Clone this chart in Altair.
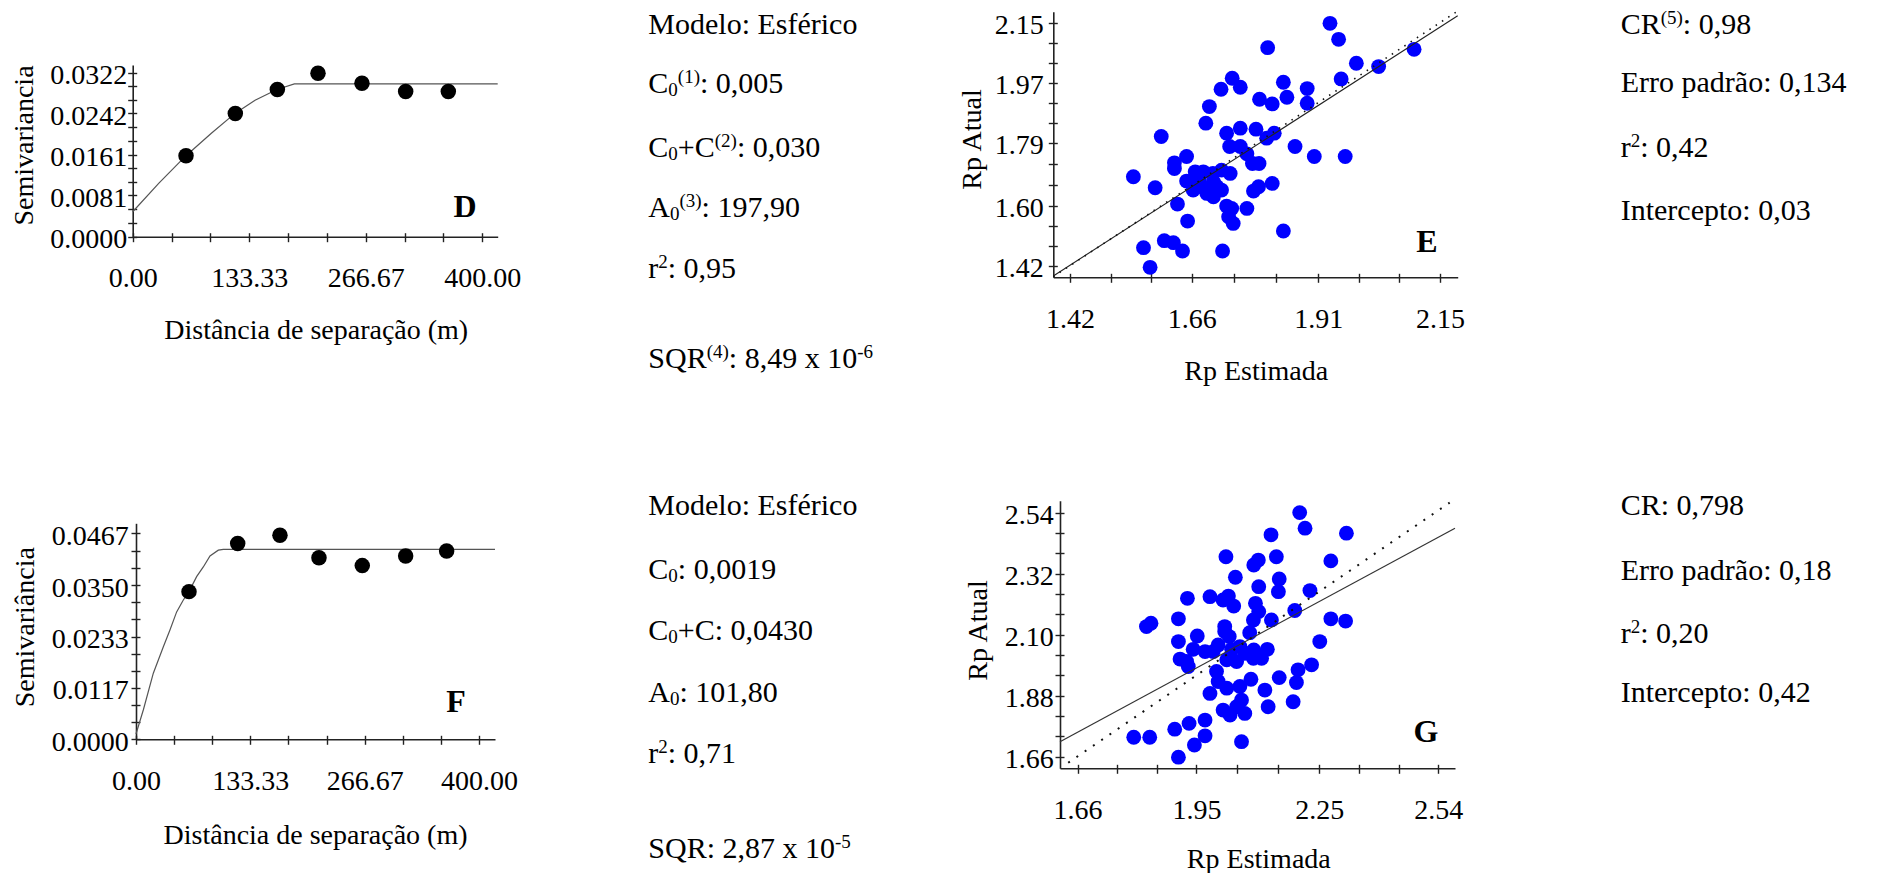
import re
import altair as alt
import pandas as pd

FONT = "Liberation Serif"
W, H = 1863, 865
AX_FS = 28
INFO_FS = 30
SUP_FS = 19

# ---------------- data ----------------
# Panel D : experimental semivariogram + fitted spherical model
D_dist = [61.0, 117.4, 165.5, 212.0, 262.3, 312.3, 361.1]
D_semi = [0.0159, 0.0242, 0.0289, 0.0321, 0.0301, 0.0285, 0.0285]
D_curve_x = [0, 30, 61, 90, 117, 140, 165, 185, 417.6]
D_curve_y = [0.0049, 0.0105, 0.0159, 0.0203, 0.0242, 0.0268, 0.0289, 0.0300, 0.0300]
D_xlabels = [0.0, 133.33, 266.67, 400.0]
D_ylabels = [0.0, 0.0081, 0.0161, 0.0242, 0.0322]

# Panel F
F_dist = [61.8, 118.6, 167.9, 213.4, 263.9, 314.5, 362.3]
F_semi = [0.0335, 0.0444, 0.0463, 0.0412, 0.0394, 0.0416, 0.0427]
F_curve_x = [0, 8.6, 20.2, 31.9, 39.6, 47.4, 55.2, 61.8, 70.7, 78.5, 86.3, 96.0, 101.8, 418.7]
F_curve_y = [0.0012, 0.0067, 0.0150, 0.0210, 0.0248, 0.0289, 0.0316, 0.0335, 0.0369,
             0.0391, 0.0416, 0.0429, 0.0431, 0.0431]
F_xlabels = [0.0, 133.33, 266.67, 400.0]
F_ylabels = [0.0, 0.0117, 0.0233, 0.0350, 0.0467]

# Panel E : cross validation (estimated vs actual)
E_est = [1.933, 1.950, 1.810, 2.099, 1.985, 2.029, 1.955, 1.740, 1.756, 1.718,
         1.841, 1.848, 1.888, 1.888, 1.794, 1.819, 1.695, 1.688, 1.729, 1.756,
         1.787, 1.808, 1.823, 1.600, 1.864, 1.902, 1.963, 1.735, 1.756, 1.769,
         1.780, 1.793, 1.650, 1.626, 1.626, 1.545, 1.588, 1.819, 1.792, 1.782,
         1.650, 1.667, 1.683, 1.702, 1.719, 1.736, 1.663, 1.680, 1.690, 1.710,
         1.703, 1.719, 1.632, 1.729, 1.739, 1.769, 1.733, 1.742, 1.652, 1.841,
         1.565, 1.606, 1.624, 1.642, 1.721, 1.578, 1.675, 1.703]
E_act = [2.148, 2.100, 2.075, 2.070, 2.028, 2.018, 1.981, 1.983, 1.956, 1.950,
         1.971, 1.926, 1.952, 1.908, 1.920, 1.906, 1.898, 1.848, 1.818, 1.833,
         1.830, 1.803, 1.818, 1.808, 1.778, 1.748, 1.748, 1.778, 1.778, 1.756,
         1.727, 1.727, 1.748, 1.729, 1.712, 1.687, 1.654, 1.667, 1.657, 1.644,
         1.674, 1.702, 1.702, 1.697, 1.707, 1.697, 1.647, 1.657, 1.637, 1.657,
         1.627, 1.647, 1.605, 1.599, 1.592, 1.592, 1.567, 1.547, 1.554, 1.524,
         1.474, 1.495, 1.489, 1.464, 1.464, 1.415, 1.677, 1.672]
E_fit_x = [1.387, 2.185]
E_fit_y = [1.389, 2.171]
E_one_x = [1.387, 2.185]
E_one_y = [1.387, 2.185]
E_xlabels = [1.42, 1.66, 1.91, 2.15]
E_ylabels = [1.42, 1.60, 1.79, 1.97, 2.15]

# Panel G
G_est = [2.202, 2.215, 2.316, 2.132, 2.022, 2.145, 2.278, 2.090, 2.101, 2.045,
         2.152, 2.150, 2.102, 2.227, 1.928, 1.983, 2.015, 2.028, 2.041, 2.094,
         2.102, 2.190, 1.828, 1.839, 1.906, 2.089, 2.133, 2.278, 2.314, 2.019,
         2.019, 2.030, 2.080, 1.906, 1.952, 1.942, 1.971, 2.003, 1.991, 2.036,
         2.056, 2.068, 2.090, 2.123, 2.109, 2.089, 1.910, 1.926, 1.930, 2.024,
         2.048, 2.251, 2.231, 2.198, 1.999, 2.152, 2.083, 2.194, 2.003, 2.024,
         2.056, 1.983, 2.117, 2.186, 2.125, 2.060, 2.015, 2.032, 2.068, 2.048,
         1.971, 1.971, 1.932, 1.897, 1.945, 2.060, 1.797, 1.836, 1.906]
G_act = [2.540, 2.484, 2.466, 2.460, 2.381, 2.381, 2.366, 2.351, 2.369, 2.307,
         2.301, 2.255, 2.273, 2.259, 2.231, 2.237, 2.225, 2.239, 2.203, 2.213,
         2.183, 2.187, 2.129, 2.141, 2.157, 2.153, 2.153, 2.157, 2.149, 2.129,
         2.111, 2.093, 2.107, 2.075, 2.095, 2.047, 2.039, 2.063, 2.039, 2.047,
         2.057, 2.033, 2.045, 2.047, 2.015, 2.015, 2.012, 2.003, 1.985, 2.009,
         2.003, 2.075, 1.991, 1.973, 1.967, 1.945, 1.939, 1.927, 1.931, 1.907,
         1.913, 1.888, 1.900, 1.858, 1.840, 1.864, 1.828, 1.810, 1.816, 1.840,
         1.792, 1.735, 1.780, 1.759, 1.702, 1.714, 1.730, 1.730, 1.658]
G_fit_x = [1.617, 2.581]
G_fit_y = [1.714, 2.484]
G_one_x = [1.637, 2.568]
G_one_y = [1.638, 2.576]
G_xlabels = [1.66, 1.95, 2.25, 2.54]
G_ylabels = [1.66, 1.88, 2.10, 2.32, 2.54]

# info texts: _{..} = subscript, ^{..} = superscript
info_D = ["Modelo: Esférico", "C_{0}^{(1)}: 0,005", "C_{0}+C^{(2)}: 0,030",
          "A_{0}^{(3)}: 197,90", "r^{2}: 0,95", "SQR^{(4)}: 8,49 x 10^{-6}"]
info_E = ["CR^{(5)}: 0,98", "Erro padrão: 0,134", "r^{2}: 0,42", "Intercepto: 0,03"]
info_F = ["Modelo: Esférico", "C_{0}: 0,0019", "C_{0}+C: 0,0430", "A_{0}: 101,80",
          "r^{2}: 0,71", "SQR: 2,87 x 10^{-5}"]
info_G = ["CR: 0,798", "Erro padrão: 0,18", "r^{2}: 0,20", "Intercepto: 0,42"]

# Times / Liberation Serif advance widths (per 1000 em) used to place sub/superscripts
CW = {" ": 250, "(": 333, ")": 333, "+": 564, ",": 250, "-": 333, ".": 250, ":": 278,
      "A": 722, "C": 667, "E": 611, "I": 333, "M": 889, "Q": 722, "R": 667, "S": 556,
      "a": 444, "c": 444, "d": 500, "e": 444, "f": 333, "i": 278, "l": 278, "m": 778,
      "n": 500, "o": 500, "p": 500, "r": 333, "s": 389, "t": 278, "x": 500, "é": 444,
      "ã": 444}


# ---------------- helpers ----------------
def thirds(vals):
    out = []
    for a, b in zip(vals[:-1], vals[1:]):
        out += [a, a + (b - a) / 3, a + 2 * (b - a) / 3]
    out.append(vals[-1])
    return out


def panel(px, py, pcolor, psize, lines, xdom, xrng, ydom, yrng, xlab, ylab,
          xfmt, yfmt, xtitle, ytitle, xpad, ypad, xtpos, ytpos, lines_on_top):
    ax_x = xrng[0]
    ax_y = yrng[0]
    x_axis = alt.Axis(orient="bottom", offset=ax_y - H, values=xlab, format=xfmt,
                      ticks=False, tickSize=0, labelPadding=xpad, labelFont=FONT,
                      labelFontSize=AX_FS, labelColor="black", labelFlush=False,
                      labelOverlap=False, domainColor="#222", domainWidth=1.6, grid=False,
                      title=xtitle, titleFont=FONT, titleFontSize=AX_FS,
                      titleFontWeight="normal", titleColor="black",
                      titleX=xtpos[0], titleY=xtpos[1] - ax_y, titleAlign="center",
                      titleBaseline="middle", titleAngle=0)
    y_axis = alt.Axis(orient="left", offset=-ax_x, values=ylab, format=yfmt,
                      ticks=False, tickSize=0, labelPadding=ypad, labelOffset=3,
                      labelFont=FONT, labelFontSize=AX_FS, labelColor="black",
                      labelFlush=False, labelOverlap=False, domainColor="#222",
                      domainWidth=1.6, grid=False,
                      title=ytitle, titleFont=FONT, titleFontSize=AX_FS,
                      titleFontWeight="normal", titleColor="black",
                      titleX=ytpos[0] - ax_x, titleY=ytpos[1], titleAlign="center",
                      titleBaseline="middle", titleAngle=270)
    xt_axis = alt.Axis(orient="bottom", offset=ax_y - 4 - H, values=thirds(xlab),
                       tickSize=9, labels=False, domain=False, grid=False, title=None,
                       tickColor="#222", tickWidth=1.4)
    yt_axis = alt.Axis(orient="left", offset=-(ax_x + 4), values=thirds(ylab),
                       tickSize=9, labels=False, domain=False, grid=False, title=None,
                       tickColor="#222", tickWidth=1.4)

    def xs():
        return alt.Scale(domain=xdom, range=xrng, nice=False, zero=False)

    def ys():
        return alt.Scale(domain=ydom, range=yrng, nice=False, zero=False)

    pts = alt.Chart(pd.DataFrame({"x": px, "y": py})).mark_circle(
        size=psize, color=pcolor, opacity=1
    ).encode(x=alt.X("x:Q", scale=xs(), axis=x_axis),
             y=alt.Y("y:Q", scale=ys(), axis=y_axis))

    line_layers = []
    for i, (lx, ly, color, width, dash) in enumerate(lines):
        kw = dict(color=color, strokeWidth=width)
        if dash:
            kw["strokeDash"] = dash
        xa = xt_axis if i == 0 else None
        ya = yt_axis if i == 0 else None
        ln = alt.Chart(pd.DataFrame({"x": lx, "y": ly})).mark_line(**kw).encode(
            x=alt.X("x:Q", scale=xs(), axis=xa),
            y=alt.Y("y:Q", scale=ys(), axis=ya))
        line_layers.append(ln)
    if lines_on_top:
        return [pts] + line_layers
    return line_layers + [pts]


def text_layer(txt, x, y, size, bold=False, align="left", baseline="alphabetic"):
    return alt.Chart(pd.DataFrame({"t": [txt]})).mark_text(
        align=align, baseline=baseline, font=FONT, fontSize=size,
        fontWeight="bold" if bold else "normal", color="black"
    ).encode(x=alt.value(x), y=alt.value(y), text="t:N")


def text_width(s, size):
    return sum(CW.get(ch, 500) for ch in s) / 1000.0 * size


def rich_line(markup, x, y, size):
    parts = re.findall(r"_\{[^}]*\}|\^\{[^}]*\}|[^_^]+", markup)
    out = []
    cx = x
    for p in parts:
        if p.startswith("_{"):
            t, fs, dy = p[2:-1], SUP_FS, 3.0
        elif p.startswith("^{"):
            t, fs, dy = p[2:-1], SUP_FS, -10.0
        else:
            t, fs, dy = p, size, 0.0
        out.append(text_layer(t, cx, y + dy, fs))
        cx += text_width(t, fs)
    return out


layers = []

# Panel D
layers += panel(D_dist, D_semi, "black", 240,
                [(D_curve_x, D_curve_y, "#555", 1.2, None)],
                [0, 417.6], [124.7, 489.7], [0, 0.0337], [228.7, 57.0],
                D_xlabels, D_ylabels, ".2f", ".4f",
                "Distância de separação (m)", "Semivariancia",
                27.5, 6, (307.7, 322), (16, 137), False)

# Panel F
layers += panel(F_dist, F_semi, "black", 240,
                [(F_curve_x, F_curve_y, "#555", 1.2, None)],
                [0, 418.7], [128.0, 487.0], [0, 0.0490], [731.3, 515.3],
                F_xlabels, F_ylabels, ".2f", ".4f",
                "Distância de separação (m)", "Semivariância",
                28, 7.7, (307, 827), (17.5, 618.7), False)

# Panel E
layers += panel(E_est, E_act, "#0000FF", 220,
                [(E_fit_x, E_fit_y, "#222", 1.1, None),
                 (E_one_x, E_one_y, "#111", 1.6, [1.5, 6])],
                [1.387, 2.185], [1045.3, 1449.7], [1.385, 2.183], [269.3, 3.7],
                E_xlabels, E_ylabels, ".2f", ".2f",
                "Rp Estimada", "Rp Atual",
                28.3, 10, (1247.7, 363.7), (964.5, 131), True)

# Panel G
layers += panel(G_est, G_act, "#0000FF", 220,
                [(G_fit_x, G_fit_y, "#333", 1.2, None),
                 (G_one_x, G_one_y, "#111", 2.0, [2, 8])],
                [1.617, 2.581], [1052.0, 1447.0], [1.618, 2.583], [760.3, 492.7],
                G_xlabels, G_ylabels, ".2f", ".2f",
                "Rp Estimada", "Rp Atual",
                28, 6.7, (1250.3, 851), (970.3, 622), True)

# Panel letters
layers.append(text_layer("D", 457, 199, 32, bold=True, align="center", baseline="middle"))
layers.append(text_layer("E", 1419, 234, 32, bold=True, align="center", baseline="middle"))
layers.append(text_layer("F", 448, 694, 32, bold=True, align="center", baseline="middle"))
layers.append(text_layer("G", 1418, 724, 32, bold=True, align="center", baseline="middle"))

# Info blocks
for txt, y in zip(info_D, [26.0, 85.3, 148.7, 208.7, 270.3, 360.3]):
    layers += rich_line(txt, 640.3, y, INFO_FS)
for txt, y in zip(info_E, [25.5, 83.7, 148.7, 212.0]):
    layers += rich_line(txt, 1612.7, y, INFO_FS)
for txt, y in zip(info_F, [507.0, 571.0, 632.0, 693.7, 755.3, 850.3]):
    layers += rich_line(txt, 640.3, y, INFO_FS)
for txt, y in zip(info_G, [507.0, 572.0, 635.3, 693.7]):
    layers += rich_line(txt, 1612.7, y, INFO_FS)

chart = alt.layer(*layers).resolve_scale(
    x="independent", y="independent"
).properties(
    width=W, height=H, autosize=alt.AutoSizeParams(type="none"), padding=0
).configure_view(stroke=None)

chart.save("out.html", embed_options={"renderer": "svg", "actions": False})
